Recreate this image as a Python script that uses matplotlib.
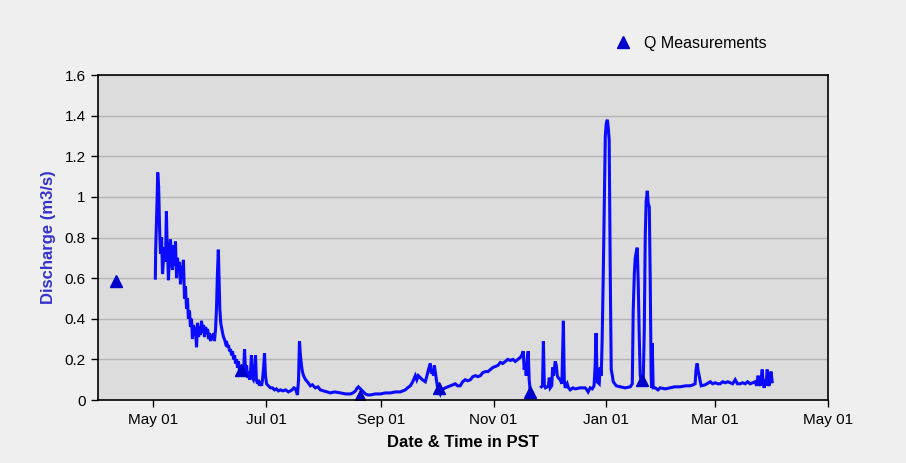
import pandas as pd
import numpy as np
import matplotlib
matplotlib.use("Agg")
import matplotlib.pyplot as plt
import matplotlib.dates as mdates
from matplotlib.ticker import MultipleLocator

plt.rcParams['font.family'] = ['Liberation Sans', 'DejaVu Sans']

# record start; the series is kept as days since this date
start = pd.Timestamp("2010-04-01")

# continuous discharge record (days since start, m3/s); NaN marks the data gap
flow_days = [
    31.0, 31.2, 32.0, 32.3, 32.8, 33.3, 33.8, 34.4, 34.9, 35.5, 36.0, 36.5, 37.0, 37.3, 37.6,
    38.1, 38.7, 39.2, 39.7, 40.3, 40.8, 41.4, 41.9, 42.5, 43.0, 43.5, 44.1, 44.6, 45.2, 45.7,
    46.2, 46.8, 47.3, 47.9, 48.4, 48.9, 49.5, 50.0, 50.6, 51.1, 51.6, 52.2, 52.7, 53.3, 53.8,
    54.4, 54.9, 55.4, 56.0, 56.5, 57.1, 57.6, 58.2, 58.7, 59.3, 59.8, 60.3, 60.9, 61.4, 61.9,
    62.5, 63.0, 63.6, 64.1, 64.6, 65.1, 65.5, 65.9, 66.4, 66.8, 67.4, 67.9, 68.4, 69.0, 69.5,
    70.1, 70.6, 71.2, 71.7, 72.3, 72.8, 73.4, 73.9, 74.4, 75.0, 75.5, 76.0, 76.6, 77.1, 77.7,
    78.2, 78.7, 79.3, 79.8, 80.4, 80.9, 81.4, 82.0, 82.5, 83.0, 83.5, 84.1, 84.6, 85.2, 85.7,
    86.3, 86.8, 87.4, 87.9, 88.5, 89.0, 89.6, 90.1, 90.6, 91.2, 92.2, 93.3, 94.4, 95.5, 96.5,
    97.6, 98.7, 100.0, 101.5, 103.0, 104.1, 105.0, 106.0, 106.8, 107.4, 107.9, 108.5, 109.0,
    109.5, 110.1, 110.6, 111.2, 112.3, 113.3, 114.9, 116.0, 117.6, 119.0, 120.3, 122.0, 124.0,
    125.7, 128.0, 131.2, 134.0, 136.6, 138.0, 139.3, 140.3, 140.9, 142.0, 143.1, 144.7, 146.0,
    147.4, 150.0, 152.8, 155.5, 158.2, 161.0, 163.6, 165.0, 166.3, 167.5, 169.0, 170.3, 171.7,
    172.5, 173.3, 174.4, 175.5, 177.1, 178.0, 178.8, 179.8, 180.4, 180.9, 181.5, 182.0, 182.6,
    183.1, 183.6, 184.2, 185.2, 186.0, 187.9, 189.3, 190.6, 192.0, 193.3, 194.6, 196.0, 197.3,
    198.7, 200.0, 201.5, 202.8, 204.2, 205.5, 206.9, 208.2, 209.6, 211.0, 212.3, 213.6, 215.0,
    216.3, 217.7, 219.0, 220.4, 221.7, 223.1, 224.5, 225.8, 227.2, 228.5, 229.3, 230.1, 230.6,
    231.2, 231.7, 232.3, 232.8, 233.3, 233.9, 236.0,
    239.9, 240.5, 241.0, 241.5, 242.1, 243.1, 243.7, 244.2, 244.7, 245.5, 246.0, 246.4, 246.9,
    247.4, 248.0, 248.5, 249.0, 250.1, 251.0, 251.8, 252.3, 252.8, 253.9, 254.6, 255.5, 257.0,
    258.2, 260.9, 263.6, 264.5, 265.2, 266.3, 267.4, 268.4, 269.0, 269.5, 270.1, 271.2, 271.7,
    272.3, 272.8, 273.4, 274.0, 274.5, 275.0, 275.6, 276.1, 276.6, 277.2, 277.7, 278.3, 278.8,
    280.4, 282.6, 285.3, 288.0, 289.1, 289.6, 290.2, 290.7, 291.3, 291.8, 292.3, 292.9, 293.4,
    294.0, 294.5, 295.0, 295.6, 296.1, 296.6, 297.0, 297.2, 297.7, 298.3, 298.8, 299.3, 299.6,
    299.9, 300.4, 301.5, 303.0, 304.2, 307.0, 309.6, 312.0, 315.0, 318.0, 320.4, 322.0, 323.1,
    323.6, 324.2, 324.8, 325.3, 325.9, 326.4, 328.6, 331.3, 332.6, 334.0, 335.4, 336.7, 338.0,
    339.4, 340.8, 342.1, 343.4, 344.8, 346.0, 347.5, 348.8, 350.2, 351.5, 352.9, 354.2, 355.6,
    356.4, 357.2, 357.8, 358.3, 358.9, 359.4, 360.0, 360.5, 361.0, 361.5, 362.1, 362.6, 363.2,
    363.7, 364.2, 364.8,
]
flow_q = [
    0.60, 0.74, 1.00, 1.12, 1.05, 0.85, 0.72, 0.80, 0.62, 0.70, 0.75, 0.68, 0.93, 0.80, 0.74,
    0.59, 0.72, 0.79, 0.70, 0.64, 0.76, 0.66, 0.78, 0.60, 0.70, 0.64, 0.68, 0.57, 0.66, 0.60,
    0.69, 0.50, 0.56, 0.45, 0.50, 0.40, 0.44, 0.36, 0.40, 0.30, 0.37, 0.32, 0.36, 0.26, 0.38,
    0.31, 0.36, 0.32, 0.39, 0.33, 0.37, 0.31, 0.36, 0.33, 0.35, 0.30, 0.33, 0.29, 0.32, 0.30,
    0.33, 0.29, 0.35, 0.45, 0.62, 0.74, 0.60, 0.45, 0.38, 0.36, 0.33, 0.31, 0.30, 0.28, 0.29,
    0.26, 0.27, 0.24, 0.25, 0.22, 0.24, 0.20, 0.22, 0.18, 0.20, 0.16, 0.19, 0.14, 0.17, 0.12,
    0.16, 0.13, 0.25, 0.14, 0.17, 0.11, 0.14, 0.10, 0.13, 0.22, 0.11, 0.10, 0.12, 0.22, 0.10,
    0.08, 0.10, 0.07, 0.09, 0.07, 0.10, 0.16, 0.23, 0.12, 0.08, 0.07, 0.06, 0.06, 0.05, 0.055,
    0.045, 0.05, 0.045, 0.05, 0.04, 0.045, 0.05, 0.06, 0.055, 0.04, 0.025, 0.10, 0.29,
    0.22, 0.17, 0.14, 0.12, 0.10, 0.09, 0.07, 0.075, 0.06, 0.065, 0.05, 0.045, 0.04,
    0.035, 0.04, 0.035, 0.03, 0.03, 0.035, 0.045, 0.06, 0.065, 0.055, 0.045, 0.03, 0.025,
    0.025, 0.03, 0.03, 0.035, 0.035, 0.04, 0.04, 0.045, 0.05, 0.06, 0.07, 0.09, 0.12,
    0.10, 0.12, 0.11, 0.10, 0.09, 0.12, 0.15, 0.18, 0.13, 0.15, 0.12, 0.17, 0.13,
    0.10, 0.07, 0.05, 0.03, 0.05, 0.06, 0.065, 0.07, 0.075, 0.08, 0.07, 0.07, 0.09,
    0.10, 0.095, 0.10, 0.115, 0.12, 0.115, 0.12, 0.135, 0.14, 0.14, 0.15, 0.16, 0.165,
    0.17, 0.185, 0.18, 0.19, 0.20, 0.195, 0.20, 0.19, 0.20, 0.21, 0.22, 0.24, 0.15,
    0.18, 0.12, 0.21, 0.24, 0.10, 0.04, np.nan,
    0.065, 0.07, 0.29, 0.07, 0.06, 0.065, 0.07, 0.11, 0.06, 0.07, 0.16, 0.12, 0.15,
    0.19, 0.17, 0.12, 0.11, 0.10, 0.08, 0.39, 0.10, 0.06, 0.08, 0.06, 0.05, 0.06,
    0.055, 0.06, 0.06, 0.05, 0.04, 0.06, 0.055, 0.07, 0.17, 0.33, 0.09, 0.08, 0.16,
    0.12, 0.30, 0.62, 1.00, 1.30, 1.36, 1.38, 1.34, 1.28, 0.60, 0.15, 0.12, 0.09,
    0.07, 0.065, 0.06, 0.065, 0.08, 0.44, 0.62, 0.70, 0.73, 0.75, 0.58, 0.30, 0.12,
    0.09, 0.11, 0.08, 0.35, 0.80, 0.98, 1.01, 1.03, 0.97, 0.95, 0.60, 0.12, 0.06,
    0.28, 0.06, 0.06, 0.05, 0.06, 0.055, 0.06, 0.065, 0.065, 0.07, 0.07, 0.075, 0.08,
    0.15, 0.18, 0.14, 0.12, 0.09, 0.07, 0.075, 0.09, 0.08, 0.085, 0.08, 0.08, 0.09,
    0.085, 0.09, 0.085, 0.08, 0.10, 0.08, 0.08, 0.085, 0.08, 0.09, 0.08, 0.085, 0.09,
    0.07, 0.12, 0.08, 0.07, 0.11, 0.15, 0.08, 0.06, 0.10, 0.07, 0.15, 0.08, 0.07,
    0.12, 0.14, 0.09,
]

# field discharge measurements
meas_days = [9.5, 77.1, 142.0, 184.7, 233.9, 294.5]
meas_q = [0.586, 0.15, 0.02, 0.057, 0.04, 0.10]

flow_dates = start + pd.to_timedelta(flow_days, unit="D")
meas_dates = start + pd.to_timedelta(meas_days, unit="D")

fig = plt.figure(figsize=(9.06, 4.63), dpi=100, facecolor="#efefef")
ax = fig.add_axes([0.1082, 0.136, 0.8057, 0.702])
ax.set_facecolor("#dcdcdc")

ax.plot(flow_dates, flow_q, color="#0a0aff", lw=2.2, solid_joinstyle="miter")
ax.plot(meas_dates, meas_q, ls="none", marker="^", ms=8, color="#0000cc",
        label="Q Measurements")

ax.set_xlim(pd.Timestamp("2010-04-01"), pd.Timestamp("2011-05-01"))
ax.set_ylim(0, 1.6)
ax.yaxis.set_major_locator(MultipleLocator(0.2))
ax.yaxis.set_major_formatter(plt.FuncFormatter(lambda v, p: "%g" % round(v, 2)))
ax.xaxis.set_major_locator(mdates.MonthLocator(bymonth=[1, 3, 5, 7, 9, 11], bymonthday=1))
ax.xaxis.set_major_formatter(mdates.DateFormatter("%b %d"))

ax.grid(axis="y", color="#b4b4b4", lw=1)
ax.set_axisbelow(True)
for s in ax.spines.values():
    s.set_color("black")
    s.set_linewidth(1.2)
ax.tick_params(direction="out", length=5, width=1, colors="black", labelsize=11, pad=4)

ax.set_ylabel("Discharge (m3/s)", color="#3333cc", fontsize=12, fontweight="bold", labelpad=6)
ax.set_xlabel("Date & Time in PST", fontsize=12, fontweight="bold", labelpad=6)

fig.legend(loc="center left", bbox_to_anchor=(0.654, 0.907), frameon=False,
           fontsize=11.5, handletextpad=0.3, markerscale=1.0)

fig.savefig("out.png", dpi=100, facecolor=fig.get_facecolor())
